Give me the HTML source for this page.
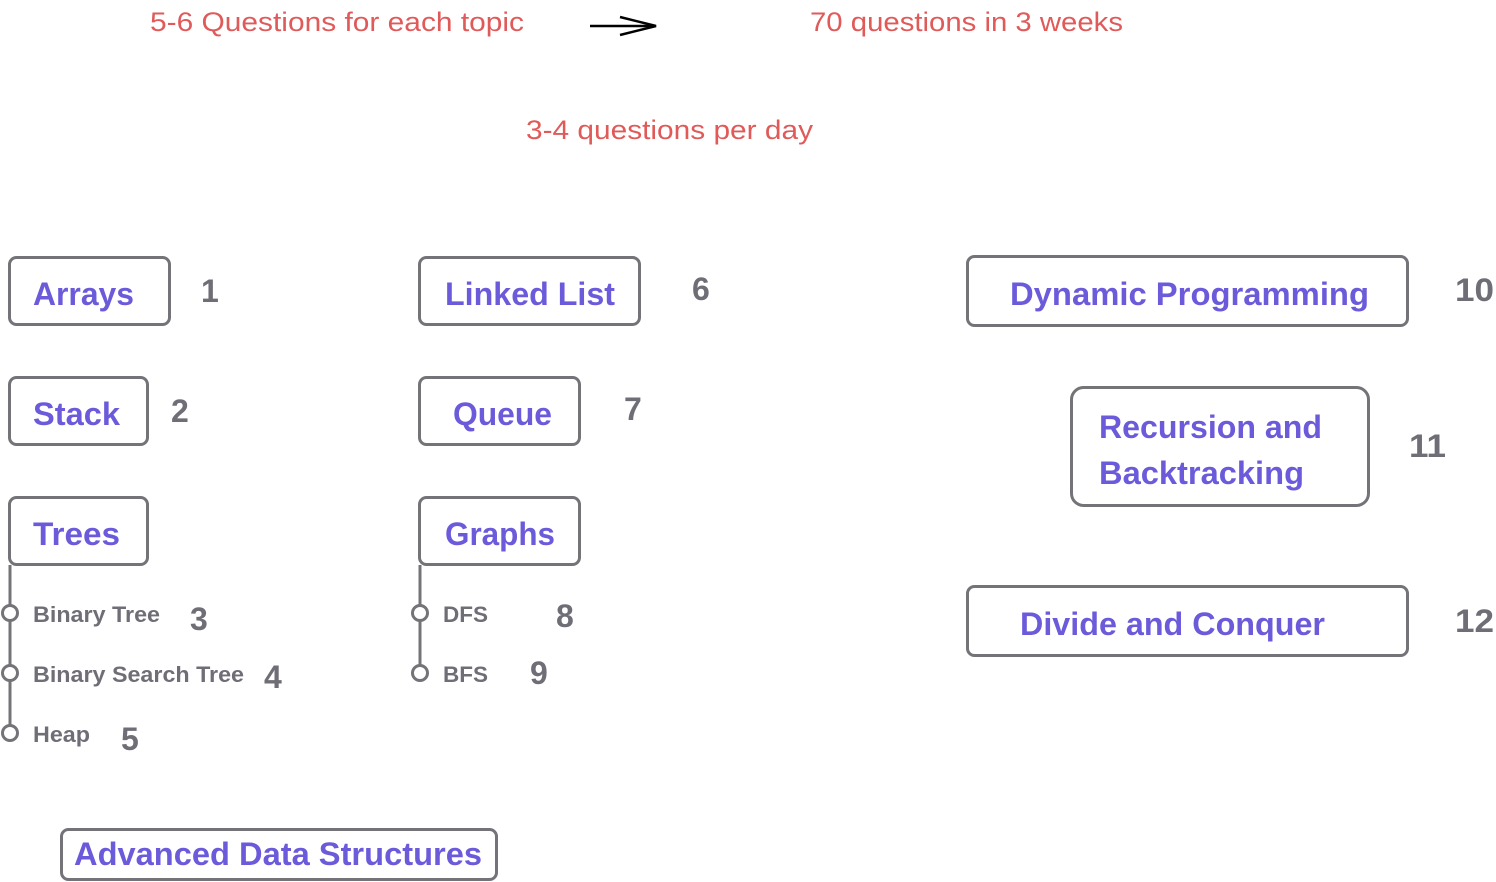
<!DOCTYPE html>
<html><head><meta charset="utf-8"><style>
html,body{margin:0;padding:0;background:#fff;width:1496px;height:882px;overflow:hidden}
svg{display:block}
.r{font-family:"Liberation Sans",sans-serif;font-size:27px;fill:#e05a5a}
.p{font-family:"Liberation Sans",sans-serif;font-weight:bold;font-size:32px;fill:#6b5bdb}
.n{font-family:"Liberation Sans",sans-serif;font-weight:bold;font-size:32px;fill:#6f6e76}
.s{font-family:"Liberation Sans",sans-serif;font-weight:bold;font-size:22px;fill:#6f6e76}
.b{fill:#fff;stroke:#747378;stroke-width:3}
</style></head><body>
<svg width="1496" height="882" viewBox="0 0 1496 882" xmlns="http://www.w3.org/2000/svg">
<text class="r" x="150" y="31" textLength="374" lengthAdjust="spacingAndGlyphs">5-6 Questions for each topic</text>
<text class="r" x="810" y="31" textLength="313" lengthAdjust="spacingAndGlyphs">70 questions in 3 weeks</text>
<text class="r" x="526" y="139" textLength="287" lengthAdjust="spacingAndGlyphs">3-4 questions per day</text>
<line x1="590" y1="26" x2="655" y2="26" stroke="#000" stroke-width="2.5"/>
<polyline points="620,17 656,26 620,35" fill="none" stroke="#000" stroke-width="2.5"/>

<line x1="10" y1="565" x2="10" y2="733" stroke="#747378" stroke-width="3"/>
<line x1="420" y1="565" x2="420" y2="673" stroke="#747378" stroke-width="3"/>

<rect class="b" x="9.5" y="257.5" width="160" height="67" rx="7"/>
<rect class="b" x="9.5" y="377.5" width="138" height="67" rx="7"/>
<rect class="b" x="9.5" y="497.5" width="138" height="67" rx="7"/>
<rect class="b" x="419.5" y="257.5" width="220" height="67" rx="7"/>
<rect class="b" x="419.5" y="377.5" width="160" height="67" rx="7"/>
<rect class="b" x="419.5" y="497.5" width="160" height="67" rx="7"/>
<rect class="b" x="967.5" y="256.5" width="440" height="69" rx="7"/>
<rect class="b" x="1071.5" y="387.5" width="297" height="118" rx="12"/>
<rect class="b" x="967.5" y="586.5" width="440" height="69" rx="7"/>
<rect class="b" x="61.5" y="829.5" width="435" height="50" rx="7"/>

<text class="p" x="33" y="305" textLength="101" lengthAdjust="spacingAndGlyphs">Arrays</text>
<text class="p" x="33" y="425" textLength="87" lengthAdjust="spacingAndGlyphs">Stack</text>
<text class="p" x="33" y="545" textLength="87" lengthAdjust="spacingAndGlyphs">Trees</text>
<text class="p" x="445" y="305" textLength="170" lengthAdjust="spacingAndGlyphs">Linked List</text>
<text class="p" x="453" y="425" textLength="99" lengthAdjust="spacingAndGlyphs">Queue</text>
<text class="p" x="445" y="545" textLength="110" lengthAdjust="spacingAndGlyphs">Graphs</text>
<text class="p" x="1010" y="305" textLength="359" lengthAdjust="spacingAndGlyphs">Dynamic Programming</text>
<text class="p" x="1099" y="438" textLength="223" lengthAdjust="spacingAndGlyphs">Recursion and</text>
<text class="p" x="1099" y="484" textLength="205" lengthAdjust="spacingAndGlyphs">Backtracking</text>
<text class="p" x="1020" y="635" textLength="305" lengthAdjust="spacingAndGlyphs">Divide and Conquer</text>
<text class="p" x="74" y="865" textLength="408" lengthAdjust="spacingAndGlyphs">Advanced Data Structures</text>

<text class="n" x="201" y="302">1</text>
<text class="n" x="171" y="422">2</text>
<text class="n" x="692" y="300">6</text>
<text class="n" x="624" y="420">7</text>
<text class="n" x="1455" y="301" textLength="39" lengthAdjust="spacingAndGlyphs">10</text>
<text class="n" x="1409" y="457" textLength="37" lengthAdjust="spacingAndGlyphs">11</text>
<text class="n" x="1455" y="632" textLength="39" lengthAdjust="spacingAndGlyphs">12</text>
<text class="n" x="190" y="630">3</text>
<text class="n" x="264" y="688">4</text>
<text class="n" x="121" y="750">5</text>
<text class="n" x="556" y="627">8</text>
<text class="n" x="530" y="684">9</text>

<text class="s" x="33" y="622" textLength="127" lengthAdjust="spacingAndGlyphs">Binary Tree</text>
<text class="s" x="33" y="682" textLength="211" lengthAdjust="spacingAndGlyphs">Binary Search Tree</text>
<text class="s" x="33" y="742" textLength="57" lengthAdjust="spacingAndGlyphs">Heap</text>
<text class="s" x="443" y="622" textLength="45" lengthAdjust="spacingAndGlyphs">DFS</text>
<text class="s" x="443" y="682" textLength="45" lengthAdjust="spacingAndGlyphs">BFS</text>

<g fill="#fff" stroke="#747378" stroke-width="3">
<circle cx="10" cy="613" r="7.5"/>
<circle cx="10" cy="673" r="7.5"/>
<circle cx="10" cy="733" r="7.5"/>
<circle cx="420" cy="613" r="7.5"/>
<circle cx="420" cy="673" r="7.5"/>
</g>
</svg>
</body></html>
